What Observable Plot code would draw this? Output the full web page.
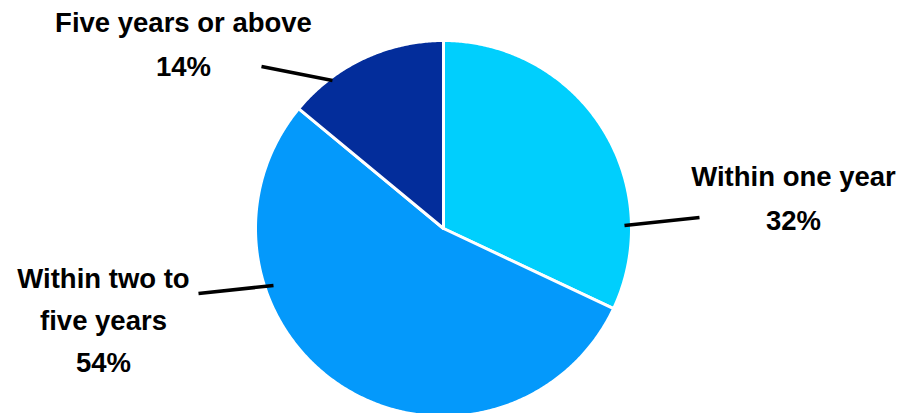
<!DOCTYPE html>
<html>
<head>
<meta charset="utf-8">
<script src="https://cdn.jsdelivr.net/npm/d3@7"></script>
<script src="https://cdn.jsdelivr.net/npm/@observablehq/plot@0.6"></script>
<style>
  html, body { margin: 0; padding: 0; background: #fff; }
  #chart svg { display: block; }
</style>
</head>
<body>
<div id="chart"></div>
<script>
// ---- data ----
const categories = ["Within one year", "Within two to five years", "Five years or above"];
const shares = [32, 54, 14];
const labelTexts = ["Within one year\n32%", "Within two to\nfive years\n54%", "Five years or above\n14%"];

// ---- style / layout ----
const palette = ["#00CFFD", "#0499FB", "#032D9B"];
const W = 900, H = 413;
const cx = 443, cy = 228, R = 188;       // pie centre and radius in pixels
// label block centres and leader-line ends (pixel layout, converted to plot units)
const labelLayout = [
  {x: 793, y: 193.5, lh: 1.6, lx1: 624, ly1: 225, lx2: 699, ly2: 217},
  {x: 103, y: 316, lh: 1.52, lx1: 273, ly1: 285, lx2: 198, ly2: 293},
  {x: 183, y: 39.5, lh: 1.6, lx1: 332, ly1: 80, lx2: 261, ly2: 66}
];
const X = px => (px - cx) / R;
const Y = py => (cy - py) / R;

// ---- build slices with d3.pie ----
const arcs = d3.pie().sort(null).value(d => d.value)(
  categories.map((c, i) => ({category: c, value: shares[i]}))
);
const polyPts = [];
arcs.forEach(a => {
  const cat = a.data.category;
  polyPts.push({category: cat, x: 0, y: 0});
  const steps = Math.max(2, Math.ceil((a.endAngle - a.startAngle) / (Math.PI / 360)));
  for (let k = 0; k <= steps; k++) {
    const t = a.startAngle + (a.endAngle - a.startAngle) * k / steps;
    polyPts.push({category: cat, x: Math.sin(t), y: Math.cos(t)});
  }
  polyPts.push({category: cat, x: 0, y: 0});
});

const labels = categories.map((c, i) => ({
  text: labelTexts[i],
  x: X(labelLayout[i].x), y: Y(labelLayout[i].y), lh: labelLayout[i].lh,
  x1: X(labelLayout[i].lx1), y1: Y(labelLayout[i].ly1),
  x2: X(labelLayout[i].lx2), y2: Y(labelLayout[i].ly2)
}));

const chart = Plot.plot({
  width: W,
  height: H,
  margin: 0,
  x: {domain: [X(0), X(W)], axis: null},
  y: {domain: [Y(H), Y(0)], axis: null},
  color: {domain: categories, range: palette, type: "ordinal"},
  style: {fontFamily: "'Liberation Sans', Arial, sans-serif", background: "#fff"},
  marks: [
    Plot.line(polyPts, {x: "x", y: "y", z: "category", fill: "category", stroke: "white", strokeWidth: 3, strokeLinejoin: "round", curve: "linear"}),
    Plot.link(labels, {x1: "x1", y1: "y1", x2: "x2", y2: "y2", stroke: "black", strokeWidth: 3.5}),
    ...labels.map(l => Plot.text([l], {x: "x", y: "y", text: "text", fontSize: 27.5, fontWeight: "bold", fill: "black", lineHeight: l.lh, lineAnchor: "middle", textAnchor: "middle"}))
  ]
});
document.getElementById("chart").appendChild(chart);
</script>
</body>
</html>
